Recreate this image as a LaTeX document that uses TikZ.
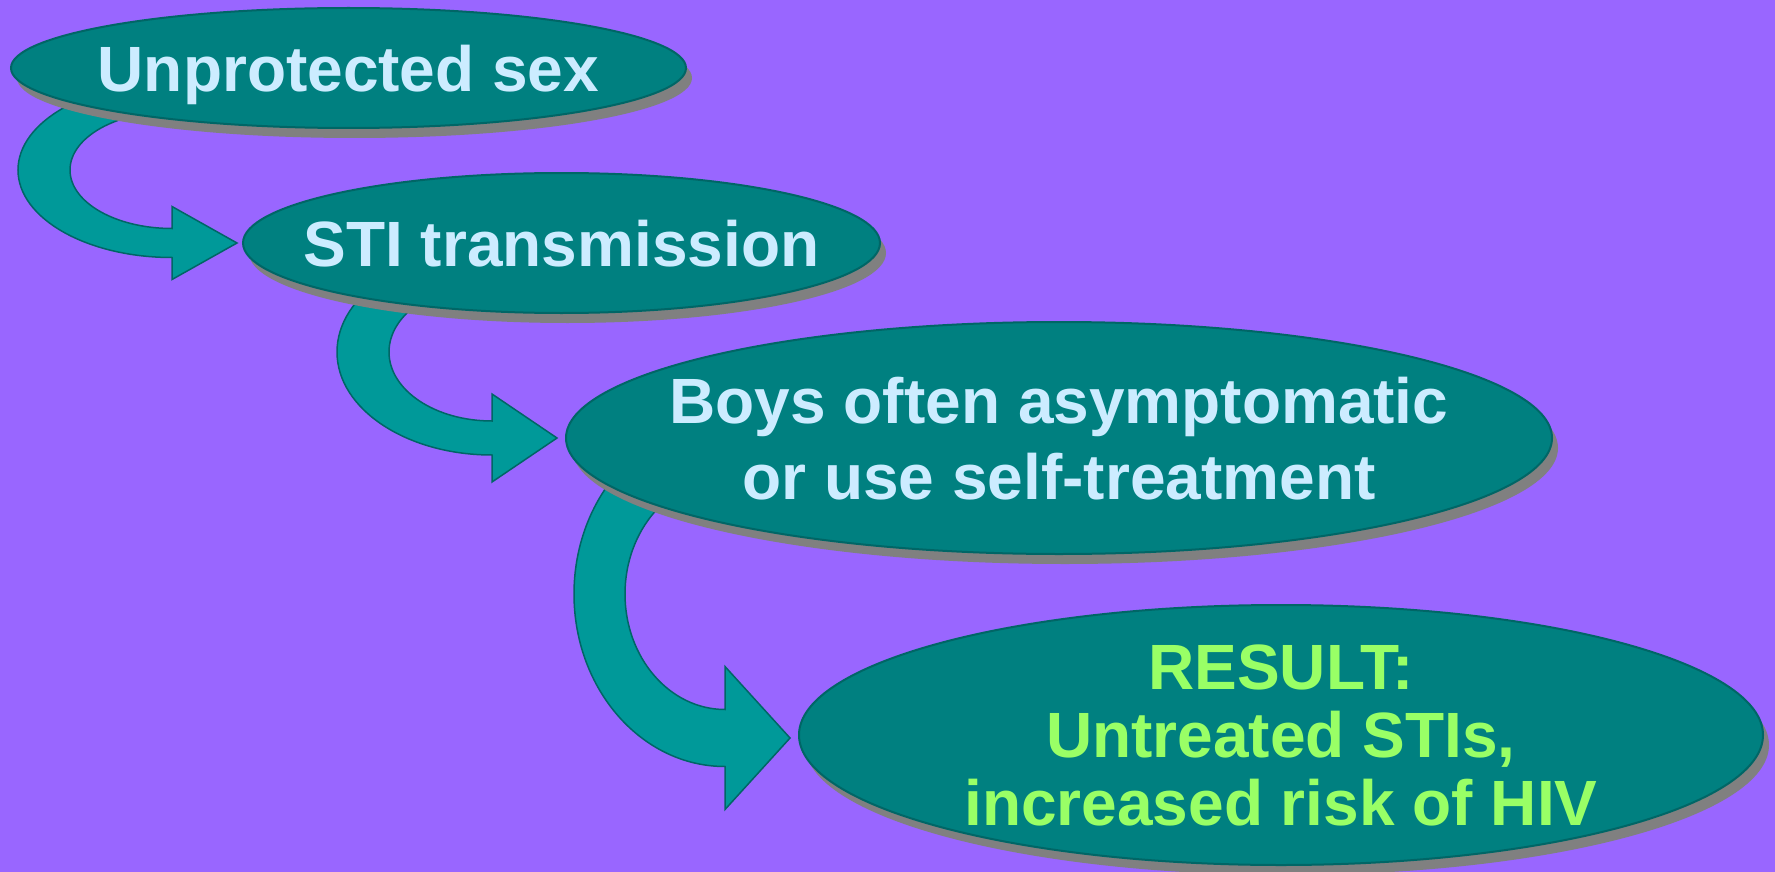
\documentclass[tikz,border=0pt]{standalone}
\usepackage{fontspec}
\setmainfont{Liberation Sans}
\usepackage{xcolor}
\usetikzlibrary{shapes.geometric, shadows, calc}
\definecolor{bgpurple}{HTML}{9966FF}
\definecolor{stageteal}{HTML}{008080}
\definecolor{edgeteal}{HTML}{006666}
\definecolor{arrowteal}{HTML}{009999}
\definecolor{shadowgray}{HTML}{808080}
\definecolor{paleblue}{HTML}{CCECFF}
\definecolor{limegreen}{HTML}{99FF66}
\pgfdeclarelayer{back}
\pgfsetlayers{back,main}

\begin{document}
\begin{tikzpicture}[x=1pt,y=1pt]
	\tikzstyle{stage} = [ellipse,fill=stageteal,draw=edgeteal,line width=2pt,inner sep=0pt,drop shadow={shadow xshift=6pt,shadow yshift=-10pt,fill=shadowgray,opacity=1}]
	\tikzstyle{stagetext} = [text=paleblue,align=center,text depth=0pt,font=\fontsize{64}{76}\selectfont\bfseries]
	\tikzstyle{bent} = [fill=arrowteal,draw=edgeteal,line width=1.5pt]
	\useasboundingbox (0,0) rectangle (1775,-872);
	% the four stages
	\node[stage,minimum width=675,minimum height=120] (n1) at (348.5,-68) {};
	\node[stage,minimum width=637,minimum height=140] (n2) at (561.5,-243) {};
	\node[stage,minimum width=986,minimum height=232] (n3) at (1059,-438) {};
	\node[stage,minimum width=964,minimum height=260] (n4) at (1281,-735) {};
	\node[stagetext] (t1) at (n1) {Unprotected sex};
	\node[stagetext] (t2) at (n2) {STI transmission};
	\node[stagetext] (t3) at (n3) {Boys often asymptomatic\\or use self-treatment};
	\node[stagetext,text=limegreen,font=\fontsize{64}{68}\selectfont\bfseries] (t4) at (n4) {RESULT:\\Untreated STIs,\\increased risk of HIV};
	% arrow tips
	\coordinate (tip1) at ($(n2.west)+(-5,0)$);
	\coordinate (tip2) at ($(n3.west)+(-8,0)$);
	\coordinate (tip3) at ($(n4.west)+(-8,-3)$);
	\begin{pgfonlayer}{back}
	\fill[bgpurple] (0,0) rectangle (1775,-872);
	\draw[bent] (tip1) -- ++(-65,-36.5) -- ++(0,22) arc[start angle=-90,end angle=-270,x radius=154,y radius=87.5] -- ++(0,-29) arc[start angle=90,end angle=270,x radius=102,y radius=58.5] -- ++(0,22) -- cycle;
	\draw[bent] (tip2) -- ++(-65,-44) -- ++(0,27) arc[start angle=-90,end angle=-270,x radius=155,y radius=103] -- ++(0,-34) arc[start angle=90,end angle=270,x radius=103,y radius=69] -- ++(0,27) -- cycle;
	\draw[bent] (tip3) -- ++(-65,-71.5) -- ++(0,43) arc[start angle=-90,end angle=-270,x radius=151,y radius=172.5] -- ++(0,-57) arc[start angle=90,end angle=270,x radius=100,y radius=115.5] -- ++(0,43) -- cycle;
	\end{pgfonlayer}
\end{tikzpicture}
\end{document}
